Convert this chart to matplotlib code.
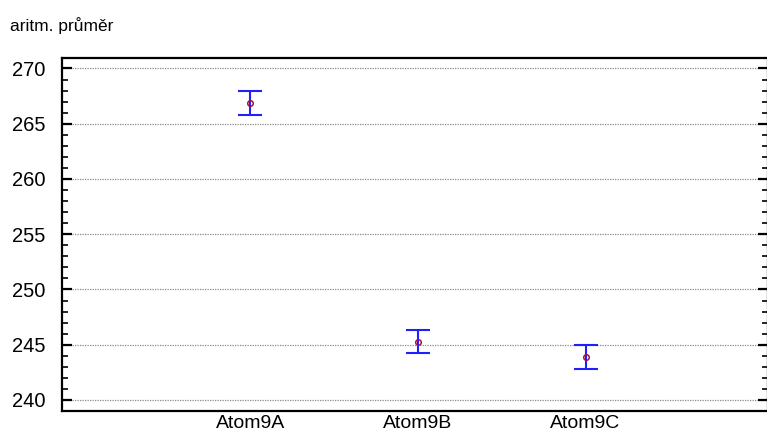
import matplotlib
matplotlib.use("Agg")
import matplotlib.pyplot as plt
from matplotlib.ticker import MultipleLocator
from matplotlib import font_manager as fm

categories = ["Atom9A", "Atom9B", "Atom9C"]
means = [266.87, 245.29, 243.90]
lower = [265.80, 244.29, 242.77]
upper = [267.94, 246.30, 244.94]
ylabel_text = "aritm. průměr"

names = {f.name for f in fm.fontManager.ttflist}
title_font = "Liberation Sans Narrow" if "Liberation Sans Narrow" in names else "Liberation Sans"

plt.rcParams['font.family'] = ['Liberation Sans', 'DejaVu Sans']

fig = plt.figure(figsize=(7.67, 4.38), dpi=100)
ax = fig.add_axes([62/767, 27/438, (767.5-62)/767, (411-58)/438])

x = list(range(1, len(categories) + 1))
yerr = [[m - l for m, l in zip(means, lower)], [u - m for m, u in zip(means, upper)]]
ax.errorbar(x, means, yerr=yerr, fmt='none', ecolor='#2020ff', elinewidth=1.5,
            capsize=8.5, capthick=1.5, zorder=3)
ax.plot(x, means, linestyle='none', marker='o', markersize=4, markerfacecolor='none',
        markeredgecolor='#a01050', markeredgewidth=1.1, zorder=4)

ax.set_xlim(-0.122, 4.085)
ax.set_ylim(239.0, 270.95)
ax.set_xticks(x)
ax.set_xticklabels(categories)
ax.yaxis.set_major_locator(MultipleLocator(5))
ax.yaxis.set_minor_locator(MultipleLocator(1))
ax.grid(axis='y', which='major', color='#888888', linestyle=(0, (1, 1)), linewidth=0.9)
ax.set_axisbelow(True)

for s in ax.spines.values():
    s.set_linewidth(1.6)
    s.set_color('black')

ax.tick_params(axis='y', which='major', direction='in', length=7, width=1.6,
               left=True, right=True, labelsize=14.5, pad=12)
ax.tick_params(axis='y', which='minor', direction='in', length=4, width=1.2,
               left=True, right=True)
ax.tick_params(axis='x', which='both', length=0, labelsize=14, pad=3)

fig.text(10/767, 1 - 31/438, ylabel_text, fontsize=12.5, family=[title_font, 'DejaVu Sans'],
         ha='left', va='baseline')

fig.savefig("out.png", dpi=100)
